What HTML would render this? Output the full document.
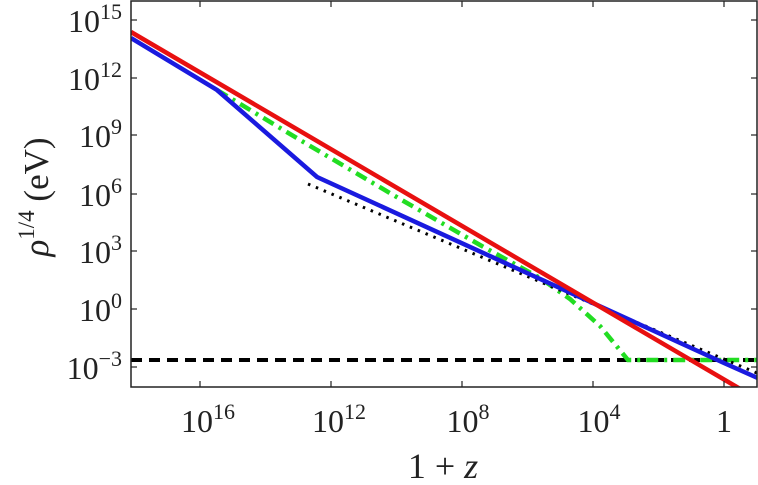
<!DOCTYPE html><html><head><style>body{margin:0;background:#fff}svg{display:block}text{font-family:"Liberation Serif",serif;fill:#222}</style></head><body>
<svg width="758" height="485" viewBox="0 0 758 485">
<defs><clipPath id="c"><rect x="131" y="1" width="626" height="386"/></clipPath></defs>
<g clip-path="url(#c)" fill="none" stroke-width="4.5">
<line x1="131" y1="360" x2="757" y2="360" stroke="#000" stroke-width="4" stroke-dasharray="11,7"/>
<polyline points="217,90 300,140 400,199 480,245 540,278 570,299 600,326 628,360 757,360" stroke="#22dd22" stroke-dasharray="12,6,3,6"/>
<line x1="308" y1="184" x2="757" y2="373" stroke="#000" stroke-width="3" stroke-dasharray="2.5,6"/>
<polyline points="131,38 217,90 317,177 724,363 760,379" stroke="#1a1adf"/>
<line x1="131" y1="32" x2="742" y2="390" stroke="#e81010"/>
</g>
<rect x="131" y="1" width="626" height="386" fill="none" stroke="#222" stroke-width="1.5"/>
<g stroke="#222" stroke-width="1.2">
<line x1="131" y1="20" x2="137" y2="20"/><line x1="131" y1="78" x2="137" y2="78"/><line x1="131" y1="135" x2="137" y2="135"/><line x1="131" y1="194" x2="137" y2="194"/><line x1="131" y1="251" x2="137" y2="251"/><line x1="131" y1="309" x2="137" y2="309"/><line x1="131" y1="367" x2="137" y2="367"/>
<line x1="751" y1="20" x2="757" y2="20"/><line x1="751" y1="78" x2="757" y2="78"/><line x1="751" y1="135" x2="757" y2="135"/><line x1="751" y1="194" x2="757" y2="194"/><line x1="751" y1="251" x2="757" y2="251"/><line x1="751" y1="309" x2="757" y2="309"/><line x1="751" y1="367" x2="757" y2="367"/>
<line x1="200" y1="387" x2="200" y2="381"/><line x1="331" y1="387" x2="331" y2="381"/><line x1="462" y1="387" x2="462" y2="381"/><line x1="593" y1="387" x2="593" y2="381"/><line x1="724" y1="387" x2="724" y2="381"/>
<line x1="200" y1="1" x2="200" y2="7"/><line x1="331" y1="1" x2="331" y2="7"/><line x1="462" y1="1" x2="462" y2="7"/><line x1="593" y1="1" x2="593" y2="7"/><line x1="724" y1="1" x2="724" y2="7"/>
</g>
<g font-size="32" text-anchor="end">
<text x="122" y="32">10<tspan font-size="22" dy="-13">15</tspan></text>
<text x="122" y="90">10<tspan font-size="22" dy="-13">12</tspan></text>
<text x="122" y="147">10<tspan font-size="22" dy="-13">9</tspan></text>
<text x="122" y="206">10<tspan font-size="22" dy="-13">6</tspan></text>
<text x="122" y="263">10<tspan font-size="22" dy="-13">3</tspan></text>
<text x="122" y="321">10<tspan font-size="22" dy="-13">0</tspan></text>
<text x="122" y="379">10<tspan font-size="22" dy="-13">−3</tspan></text>
</g>
<g font-size="32" text-anchor="middle">
<text x="208" y="432">10<tspan font-size="22" dy="-13">16</tspan></text>
<text x="339" y="432">10<tspan font-size="22" dy="-13">12</tspan></text>
<text x="468" y="432">10<tspan font-size="22" dy="-13">8</tspan></text>
<text x="599" y="432">10<tspan font-size="22" dy="-13">4</tspan></text>
<text x="724" y="432">1</text>
<text x="443" y="478" font-size="36">1 + <tspan font-style="italic">z</tspan></text>
</g>
<text transform="translate(48,197) rotate(-90)" text-anchor="middle" font-size="35"><tspan font-style="italic">ρ</tspan><tspan font-size="23" dy="-14">1/4</tspan><tspan dy="14"> (eV)</tspan></text>
</svg></body></html>
